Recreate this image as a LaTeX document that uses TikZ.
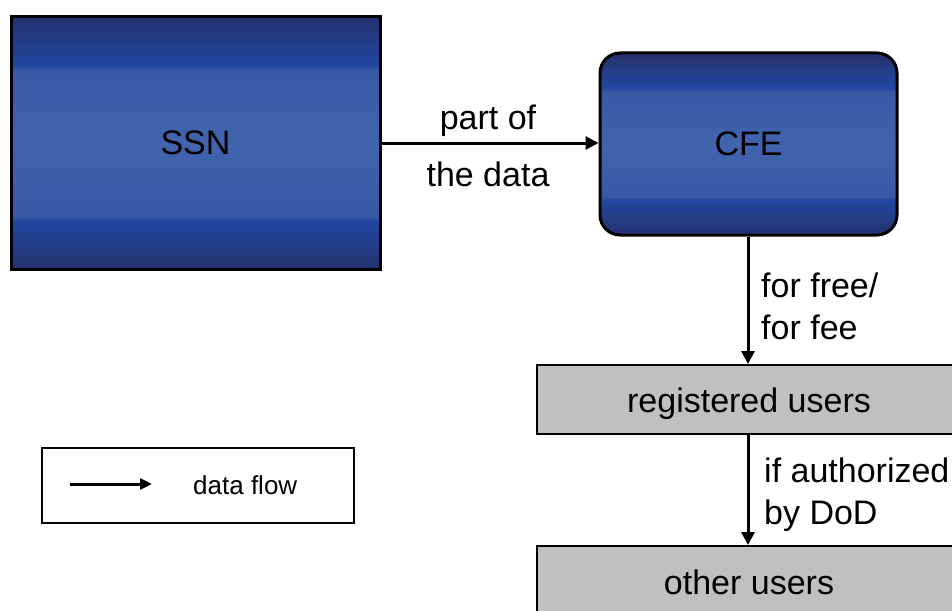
\documentclass[tikz,border=0pt]{standalone}
\usepackage{fontspec}
\setmainfont{Liberation Sans}
\usetikzlibrary{arrows.meta}
\definecolor{bdark}{RGB}{38,50,110}
\definecolor{bblue}{RGB}{33,70,160}
\definecolor{bmid}{RGB}{56,88,166}
\definecolor{blight}{RGB}{66,99,173}
\definecolor{ugrey}{RGB}{192,192,192}
\pgfdeclareverticalshading{bluebar}{100bp}{%
  color(0bp)=(bdark); color(25bp)=(bdark); color(34.5bp)=(bblue); color(35.5bp)=(bmid);
  color(50bp)=(blight); color(64.5bp)=(bmid); color(65.5bp)=(bblue);
  color(75bp)=(bdark); color(100bp)=(bdark)}
\begin{document}
\begin{tikzpicture}[x=1pt,y=-1pt,
  bluebox/.style={draw=black,line width=3pt,shading=bluebar,inner sep=0pt,
    font=\fontsize{34}{40}\selectfont},
  userbox/.style={draw=black,line width=2pt,fill=ugrey,inner sep=0pt,
    font=\fontsize{34}{40}\selectfont,text height=25pt,text depth=0pt},
  flow/.style={line width=3pt,-{Triangle[length=13pt,width=13pt]}},
  lbl/.style={font=\fontsize{34}{40}\selectfont,inner sep=0pt},
  lbl2/.style={font=\fontsize{34}{42}\selectfont,inner sep=0pt,align=left}]
\useasboundingbox (0,0) rectangle (952,610);
\clip (0,0) rectangle (952,610);
\node[bluebox,minimum width=369pt,minimum height=252pt] (ssn) at (195.5,143) {SSN};
\node[bluebox,rounded corners=20pt,minimum width=297pt,minimum height=182pt] (cfe) at (748.5,144) {CFE};
\node[userbox,minimum width=424pt,minimum height=69pt] (reg) at (749,399.5) {registered users};
\node[userbox,minimum width=424pt,minimum height=72pt] (oth) at (749,582) {other users};
\draw[flow] (ssn.east |- 0,143) -- (cfe.west |- 0,143);
\node[lbl] (l1) at (488,121) {part of};
\node[lbl] (l2) at (488,174) {the data};
\draw[flow] (cfe.south -| 748,0) -- (reg.north -| 748,0);
\node[lbl2,anchor=west] (l3) at (761,306) {for free/\\for fee};
\draw[flow] (reg.south -| 748,0) -- (oth.north -| 748,0);
\node[lbl2,anchor=west] (l4) at (764,495) {if authorized\\by DoD};
\node[draw=black,line width=2pt,minimum width=312pt,minimum height=75pt,inner sep=0pt] (leg) at (198,485.5) {};
\coordinate (la) at (70,484);
\coordinate (lb) at (152,484);
\draw[line width=3pt,-{Triangle[length=12pt,width=11pt]}] (la) -- (lb);
\node[font=\fontsize{26}{30}\selectfont,anchor=west,inner sep=0pt] (lt) at (193,485) {data flow};
\end{tikzpicture}
\end{document}
